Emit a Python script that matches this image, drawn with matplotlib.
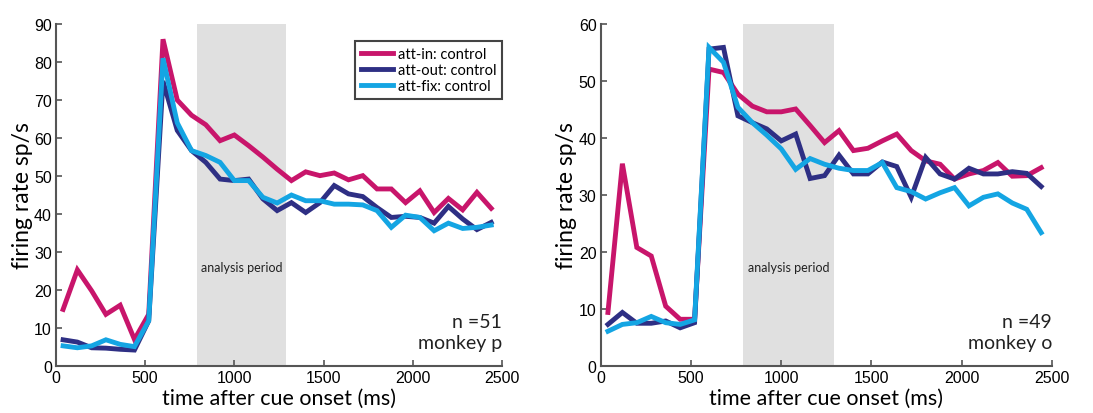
import numpy as np
import matplotlib
matplotlib.use("Agg")
import matplotlib.pyplot as plt

# bin centres (ms after cue onset)
t_ms = np.arange(40, 2441, 80)

# monkey p
p_att_in = [14.9, 25.3, 19.8, 13.6, 16.0, 7.0, 13.6, 86.0, 70.0, 66.0, 63.5, 59.3, 60.8, 58.0,
            55.0, 51.8, 48.8, 51.1, 50.1, 50.8, 49.0, 50.1, 46.6, 46.6, 43.0, 46.1, 40.4,
            44.1, 41.1, 45.7, 41.5]
p_att_out = [6.9, 6.3, 4.8, 4.7, 4.4, 4.2, 11.9, 75.0, 62.0, 56.7, 53.6, 49.2, 48.8, 49.2,
             44.0, 40.9, 43.0, 40.4, 43.0, 47.5, 45.3, 44.6, 41.7, 39.1, 39.4, 39.1, 37.6,
             42.0, 38.7, 35.9, 37.8]
p_att_fix = [5.3, 4.8, 5.3, 6.9, 5.7, 5.1, 11.9, 81.0, 64.0, 56.7, 55.4, 53.6, 48.8, 48.8,
             44.4, 42.9, 45.0, 43.5, 43.5, 42.6, 42.6, 42.4, 40.9, 36.5, 39.7, 39.1, 35.6,
             37.6, 36.2, 36.5, 37.1]

# monkey o
o_att_in = [9.4, 35.5, 20.8, 19.3, 10.5, 8.2, 8.2, 52.1, 51.5, 47.7, 45.6, 44.6, 44.6, 45.1,
            42.2, 39.2, 41.3, 37.8, 38.2, 39.5, 40.7, 37.8, 36.0, 35.4, 32.8, 33.7, 34.3,
            35.7, 33.3, 33.4, 34.8]
o_att_out = [7.3, 9.4, 7.5, 7.5, 7.9, 6.7, 7.6, 55.6, 55.9, 43.9, 42.7, 41.6, 39.5, 40.7,
             32.9, 33.4, 37.0, 33.7, 33.7, 35.8, 35.0, 29.6, 36.6, 33.7, 32.8, 34.7, 33.7,
             33.7, 34.1, 33.8, 31.5]
o_att_fix = [6.1, 7.3, 7.6, 8.7, 7.6, 7.3, 8.1, 55.9, 53.3, 45.4, 42.7, 40.5, 38.1, 34.5,
             36.4, 35.4, 34.7, 34.3, 34.3, 35.7, 31.3, 30.6, 29.3, 30.4, 31.3, 28.1, 29.6,
             30.2, 28.6, 27.5, 23.4]

labels = ["att-in: control", "att-out: control", "att-fix: control"]
colors = ["#C8156B", "#2E2F84", "#14A5E3"]

analysis_period = (790, 1290)

panels = [
    dict(series=[p_att_in, p_att_out, p_att_fix], ymax=90, yticks=np.arange(0, 91, 10),
         n=51, monkey="p", rect=[0.0512, 0.1135, 0.408, 0.826], legend=True),
    dict(series=[o_att_in, o_att_out, o_att_fix], ymax=60, yticks=np.arange(0, 61, 10),
         n=49, monkey="o", rect=[0.5496, 0.1135, 0.4129, 0.826], legend=False),
]

label_font = "Lato"
tick_font = "Liberation Sans"
spine_col = "#555555"

fig = plt.figure(figsize=(10.93, 4.14), dpi=100)

for pan in panels:
    ax = fig.add_axes(pan["rect"])
    ax.axvspan(*analysis_period, color="#E0E0E0", lw=0, zorder=0)
    handles = []
    for y, c, lab in zip(pan["series"], colors, labels):
        h, = ax.plot(t_ms, y, color=c, lw=3.5, solid_joinstyle="miter", label=lab, zorder=2)
        handles.append(h)

    ax.set_xlim(0, 2500)
    ax.set_ylim(0, pan["ymax"])
    ax.set_xticks(np.arange(0, 2501, 500))
    ax.set_yticks(pan["yticks"])
    for s in ("top", "right"):
        ax.spines[s].set_visible(False)
    for s in ("left", "bottom"):
        ax.spines[s].set_color(spine_col)
        ax.spines[s].set_linewidth(1.5)
    ax.tick_params(direction="in", length=4, width=1.2, color=spine_col,
                   labelsize=11.5, pad=3)
    for tl in ax.get_xticklabels() + ax.get_yticklabels():
        tl.set_fontfamily(tick_font)

    ax.set_xlabel("time after cue onset (ms)", fontsize=15.5, family=label_font, labelpad=2)
    ax.set_ylabel("firing rate sp/s", fontsize=16.5, family=label_font, labelpad=1)

    ax.text(1040, 0.29, "analysis period", transform=ax.get_xaxis_transform(),
            ha="center", va="center", fontsize=9, family=label_font, color="#222222")
    ax.text(1.0, 0.13, f"n ={pan['n']}", transform=ax.transAxes, ha="right", va="center",
            fontsize=14, family=label_font, color="#222222")
    ax.text(1.0, 0.07, f"monkey {pan['monkey']}", transform=ax.transAxes, ha="right",
            va="center", fontsize=14, family=label_font, color="#222222")

    if pan["legend"]:
        leg = ax.legend(handles=handles, loc="upper right", bbox_to_anchor=(1.0, 0.95),
                        fancybox=False, framealpha=1, edgecolor="#444444",
                        prop=dict(family=label_font, size=10.5), handlelength=2.2,
                        handletextpad=0.3, borderpad=0.4, labelspacing=0.15,
                        borderaxespad=0)
        leg.get_frame().set_linewidth(1.5)

fig.savefig("out.png", dpi=100)
